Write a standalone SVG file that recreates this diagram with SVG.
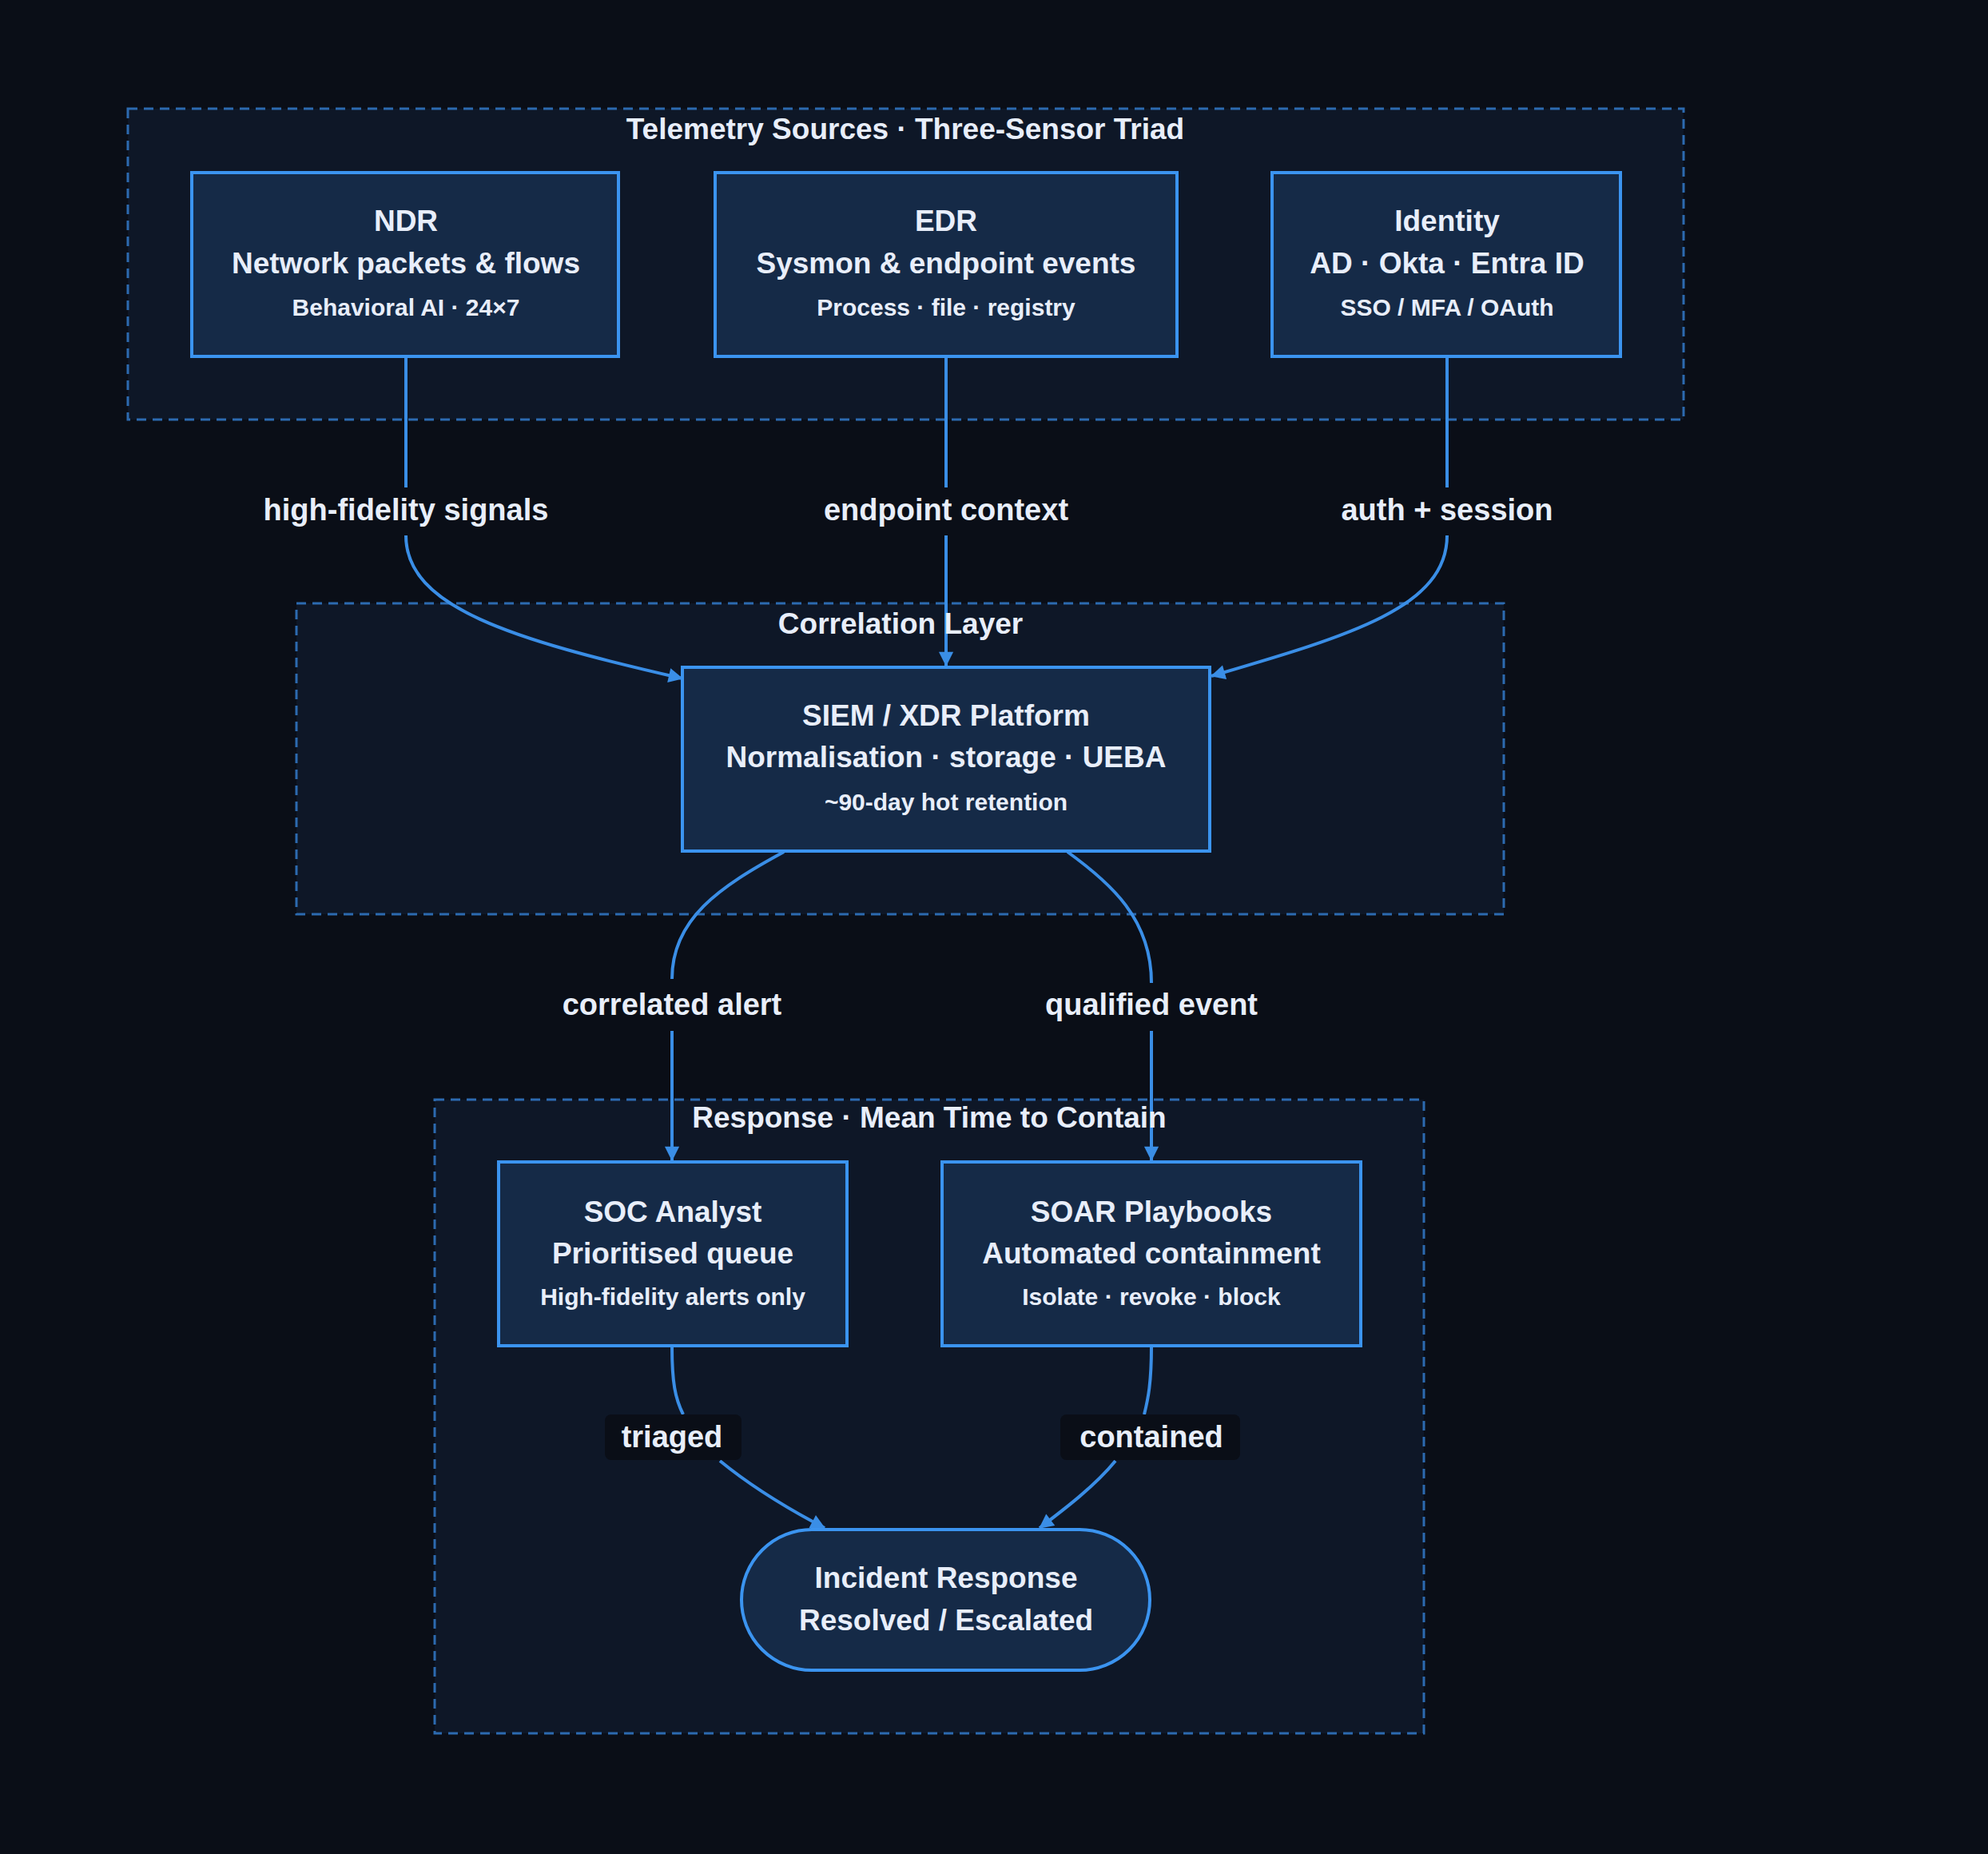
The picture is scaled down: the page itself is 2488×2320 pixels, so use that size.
<svg xmlns="http://www.w3.org/2000/svg" width="2488" height="2320" viewBox="0 0 2488 2320">
<style>
.cl{fill:#0e1727;stroke:#2c6ab0;stroke-width:3;stroke-dasharray:12 8}
.nd{fill:#152a47;stroke:#3b94f0;stroke-width:4}
.t{font-family:"Liberation Sans",Arial,sans-serif;font-weight:bold;fill:#e8eefa;text-anchor:middle;dominant-baseline:central}
.h{font-size:37px}.s{font-size:30px}.el{font-size:38px}
.e{fill:none;stroke:#3a8ee6;stroke-width:4}
</style>
<defs><marker id="a" viewBox="0 0 10 10" refX="9" refY="5" markerWidth="7" markerHeight="7" markerUnits="userSpaceOnUse" orient="auto" style="overflow:visible"><path d="M0,0L10,5L0,10z" fill="#3a8ee6" transform="scale(2.6) translate(-6,-3.1)"/></marker></defs>
<rect width="2488" height="2320" fill="#0a0e17"/>
<g id="clusters">
<rect class="cl" x="160" y="136" width="1947" height="389"/>
<text class="t h" x="1133" y="161">Telemetry Sources · Three-Sensor Triad</text>
<rect class="cl" x="371" y="755" width="1511" height="389"/>
<rect class="cl" x="544" y="1376" width="1238" height="793"/>
</g>
<g id="connectors">
<path class="e" d="M508,446V610"/>
<path class="e" d="M508,670C508,760 640,800 854,849" marker-end="url(#a)"/>
<path class="e" d="M1184,446V610"/>
<path class="e" d="M1184,670V833" marker-end="url(#a)"/>
<path class="e" d="M1811,446V610"/>
<path class="e" d="M1811,670C1811,760 1690,795 1516,846" marker-end="url(#a)"/>
<path class="e" d="M981,1066C900,1110 841,1150 841,1225"/>
<path class="e" d="M841,1290V1452" marker-end="url(#a)"/>
<path class="e" d="M1336,1066C1390,1105 1441,1150 1441,1230"/>
<path class="e" d="M1441,1290V1452" marker-end="url(#a)"/>
<path class="e" d="M841,1685C841,1730 845,1750 855,1770"/>
<path class="e" d="M901,1828C940,1860 990,1890 1032,1912" marker-end="url(#a)"/>
<path class="e" d="M1441,1685C1441,1730 1437,1750 1432,1770"/>
<path class="e" d="M1396,1828C1370,1860 1330,1890 1301,1912" marker-end="url(#a)"/>
</g>
<g id="labels">
<text class="t el" x="508" y="638">high-fidelity signals</text>
<text class="t el" x="1184" y="638">endpoint context</text>
<text class="t el" x="1811" y="638">auth + session</text>
<text class="t h" x="1127" y="780">Correlation Layer</text>
<text class="t el" x="841" y="1257">correlated alert</text>
<text class="t el" x="1441" y="1257">qualified event</text>
<text class="t h" x="1163" y="1398">Response · Mean Time to Contain</text>
<rect x="757" y="1770" width="171" height="57" rx="8" fill="#0a0e17"/>
<text class="t el" x="841" y="1798">triaged</text>
<rect x="1327" y="1770" width="225" height="57" rx="8" fill="#0a0e17"/>
<text class="t el" x="1441" y="1798">contained</text>
</g>
<g id="ndr"><rect class="nd" x="240" y="216" width="534" height="230"/>
<text class="t h" x="508" y="276">NDR</text><text class="t h" x="508" y="329">Network packets &amp; flows</text><text class="t s" x="508" y="384">Behavioral AI · 24×7</text></g>
<g id="edr"><rect class="nd" x="895" y="216" width="578" height="230"/>
<text class="t h" x="1184" y="276">EDR</text><text class="t h" x="1184" y="329">Sysmon &amp; endpoint events</text><text class="t s" x="1184" y="384">Process · file · registry</text></g>
<g id="identity"><rect class="nd" x="1592" y="216" width="436" height="230"/>
<text class="t h" x="1811" y="276">Identity</text><text class="t h" x="1811" y="329">AD · Okta · Entra ID</text><text class="t s" x="1811" y="384">SSO / MFA / OAuth</text></g>
<g id="siem"><rect class="nd" x="854" y="835" width="660" height="230"/>
<text class="t h" x="1184" y="895">SIEM / XDR Platform</text><text class="t h" x="1184" y="947">Normalisation · storage · UEBA</text><text class="t s" x="1184" y="1003">~90-day hot retention</text></g>
<g id="soc"><rect class="nd" x="624" y="1454" width="436" height="230"/>
<text class="t h" x="842" y="1516">SOC Analyst</text><text class="t h" x="842" y="1568">Prioritised queue</text><text class="t s" x="842" y="1622">High-fidelity alerts only</text></g>
<g id="soar"><rect class="nd" x="1179" y="1454" width="524" height="230"/>
<text class="t h" x="1441" y="1516">SOAR Playbooks</text><text class="t h" x="1441" y="1568">Automated containment</text><text class="t s" x="1441" y="1622">Isolate · revoke · block</text></g>
<g id="incident"><rect class="nd" x="928" y="1914" width="511" height="176" rx="88"/>
<text class="t h" x="1184" y="1974">Incident Response</text><text class="t h" x="1184" y="2027">Resolved / Escalated</text></g>
</svg>
